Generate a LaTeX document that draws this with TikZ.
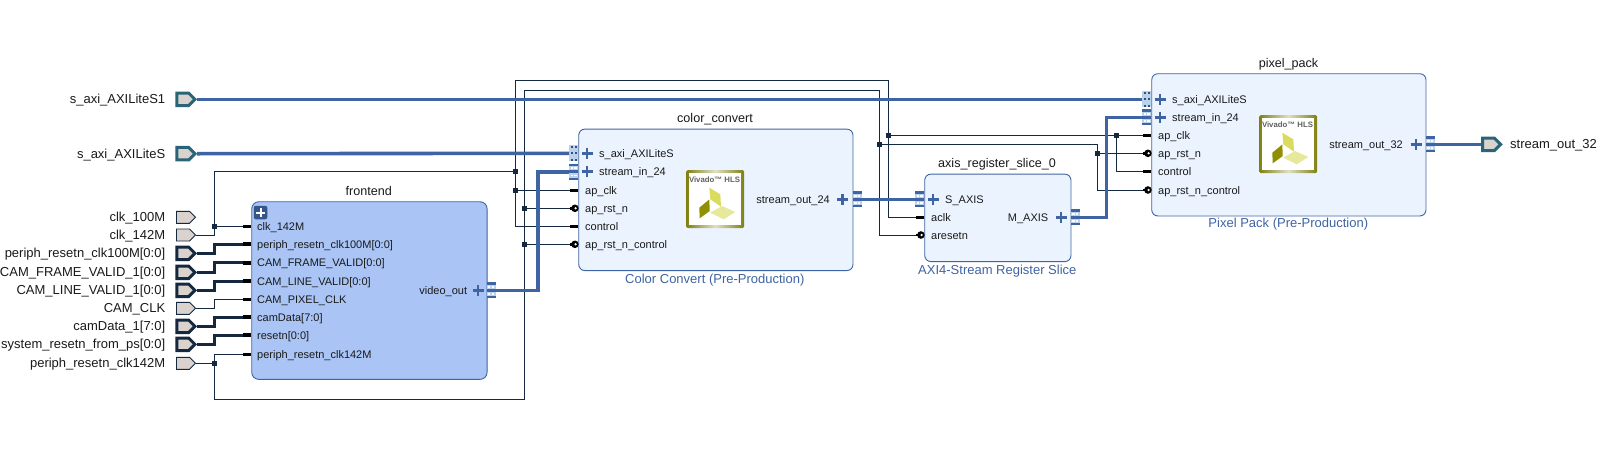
\documentclass[tikz,border=0pt]{standalone}
\usepackage{fontspec}
\setmainfont{Liberation Sans}
\usetikzlibrary{shapes.symbols,calc}
\definecolor{wireblue}{HTML}{3F64A3}
\definecolor{thinnavy}{HTML}{14283F}
\definecolor{portfill}{HTML}{DAD2CC}
\definecolor{portteal}{HTML}{2A6478}
\definecolor{paleblock}{HTML}{EBF4FE}
\definecolor{frontblock}{HTML}{A9C4F5}
\definecolor{iconpale}{HTML}{BBD3EA}
\definecolor{txt}{HTML}{1A1A1A}
\definecolor{olivefr}{HTML}{7F7F10}
\tikzset{
 ipblock/.style={draw=wireblue,line width=0.9pt,rounded corners=6pt,anchor=north west,inner sep=0pt,fill=paleblock},
 sigbase/.style={shape=signal,signal to=east,signal pointer angle=90,inner sep=0pt,fill=portfill,minimum width=19pt,anchor=center},
 portthin/.style={sigbase,draw=thinnavy,line width=0.9pt,minimum height=12pt},
 portbus/.style={sigbase,draw=thinnavy,line width=3pt,minimum height=12.5pt,minimum width=18pt},
 portif/.style={sigbase,draw=portteal,line width=3pt,minimum height=12.5pt,minimum width=18pt},
 pinlab/.style={font=\fontsize{11}{13}\selectfont,text=txt,inner sep=0pt,anchor=base west,yshift=-4pt},
 pinlabr/.style={font=\fontsize{11}{13}\selectfont,text=txt,inner sep=0pt,anchor=base east,yshift=-4pt},
 portlab/.style={font=\fontsize{13}{15}\selectfont,text=txt,inner sep=0pt,anchor=base east,yshift=-4.5pt},
 titlelab/.style={font=\fontsize{12.6}{15}\selectfont,text=txt,inner sep=0pt,anchor=base,yshift=-4.5pt},
 sublab/.style={font=\fontsize{13}{15}\selectfont,text=wireblue,inner sep=0pt,anchor=base,yshift=-4.5pt},
 jct/.style={shape=rectangle,fill=thinnavy,minimum size=4.6pt,inner sep=0pt},
 thinwire/.style={draw=thinnavy,line width=0.9pt},
 buswire/.style={draw=thinnavy,line width=3pt},
 ifwire/.style={draw=wireblue,line width=3.6pt},
 ifbox/.style={shape=rectangle,fill=iconpale,minimum width=9pt,minimum height=16pt,inner sep=0pt},
}
% stub pins: name, block edge x, y
\newcommand{\stub}[3]{\coordinate (#1) at (#2-8,#3);\draw[black,line width=3pt] (#1) -- (#2-.5,#3);}
\newcommand{\bstub}[3]{\coordinate (#1) at (#2-8,#3);\draw[black,line width=4pt] (#1) -- (#2-.5,#3);}
\newcommand{\rpin}[3]{\coordinate (#1) at (#2-8,#3);\draw[black,line width=2.6pt] (#1) -- (#2-4,#3);
  \fill[black] (#2-3.4,#3) circle (3.8pt);\fill[white] (#2-2.7,#3) circle (1.3pt);}
\newcommand{\plus}[2]{\draw[wireblue,line width=2.8pt] (#1-5.5,#2) -- (#1+5.5,#2) (#1,#2-5.5) -- (#1,#2+5.5);}
% interface icons: name, centre x, y
\newcommand{\ifdots}[3]{\node[ifbox] (#1) at (#2,#3) {};
  \foreach \dy in {-6.5,0,6.5}{\fill[wireblue!80!black] (#2-3,#3+\dy-1) rectangle (#2-.8,#3+\dy+1);\fill[wireblue!80!black] (#2+.8,#3+\dy-1) rectangle (#2+3,#3+\dy+1);}}
\newcommand{\ifbars}[3]{\node[ifbox] (#1) at (#2,#3) {};
  \fill[wireblue] (#2-4.5,#3-8) rectangle (#2+4.5,#3-5.8);
  \fill[wireblue] (#2-4.5,#3-1.5) rectangle (#2+4.5,#3+1.5);
  \fill[wireblue] (#2-4.5,#3+5.8) rectangle (#2+4.5,#3+8);
  \foreach \dy in {-3.7,3.7}{\fill[white] (#2-3.2,#3+\dy-.9) rectangle (#2-.6,#3+\dy+.9);\fill[white] (#2+.6,#3+\dy-.9) rectangle (#2+3.2,#3+\dy+.9);}}
% logo at top-left corner
\newcommand{\hlslogo}[3]{\begin{scope}[shift={(#2,#3)}]
  \node[shape=rectangle,anchor=north west,minimum size=58pt,inner sep=0pt,rounded corners=1.5pt,left color=olivefr,right color=olivefr,middle color=olivefr!25] (#1) at (0,0) {};
  \fill[white] (3,3) rectangle (55,55);
  \node[font=\bfseries\fontsize{7.8}{8}\selectfont,text=black!62,inner sep=0pt] (#1t) at (28.5,10.2) {Vivado™ HLS};
  \fill[HTML=D9DC5F] (23.3,17.7) -- (34.3,24.3) -- (35,36.7) -- (24.3,29.3) -- cycle;
  \fill[HTML=8F8F00] (13.3,37.7) -- (23.3,29.5) -- (23.7,41) -- (13.7,48.3) -- cycle;
  \fill[HTML=E6E99C] (24.3,42.7) -- (36,36) -- (49.3,42) -- (37.7,49.3) -- cycle;
\end{scope}}
\tikzset{HTML/.code={\definecolor{tmpc}{HTML}{#1}\pgfsetfillcolor{tmpc}}}
\begin{document}
\begin{tikzpicture}[x=1pt,y=-1pt]
\useasboundingbox (0,0) rectangle (1605,450);
\fill[white] (0,0) rectangle (1605,450);

% ----- blocks
\node[ipblock,fill=frontblock,minimum width=235.3pt,minimum height=177.6pt,rounded corners=7pt] (fe) at (251.3,201.3) {};
\node[ipblock,minimum width=274.2pt,minimum height=141.4pt] (cc) at (578.3,128.7) {};
\node[ipblock,minimum width=146.2pt,minimum height=87.4pt] (rs) at (924.3,173.7) {};
\node[ipblock,minimum width=274.2pt,minimum height=142.2pt] (pp) at (1151.3,73.3) {};

\node[titlelab] (tfe) at (368.8,190.7) {frontend};
\node[titlelab] (tcc) at (715,117.7) {color\_convert};
\node[sublab] (scc) at (714.8,278.7) {Color Convert (Pre-Production)};
\node[titlelab] (trs) at (997,162.7) {axis\_register\_slice\_0};
\node[sublab] (srs) at (997.3,270) {AXI4-Stream Register Slice};
\node[titlelab] (tpp) at (1288.5,63.3) {pixel\_pack};
\node[sublab] (spp) at (1288.3,223.3) {Pixel Pack (Pre-Production)};

% frontend expand badge
\node[shape=rectangle,fill=wireblue!85!black,rounded corners=2pt,minimum size=13.5pt,inner sep=0pt] (feb) at (260.5,212.5) {};
\draw[white,line width=2pt] (256,212.5) -- (265,212.5) (260.5,208) -- (260.5,217);

% ----- frontend pins
\stub{fclk}{251.3}{226.3}\node[pinlab] (lf1) at (257,226.3) {clk\_142M};
\bstub{frst}{251.3}{244.3}\node[pinlab] (lf2) at (257,244.3) {periph\_resetn\_clk100M[0:0]};
\bstub{ffv}{251.3}{262.7}\node[pinlab] (lf3) at (257,262.7) {CAM\_FRAME\_VALID[0:0]};
\bstub{flv}{251.3}{281.3}\node[pinlab] (lf4) at (257,281.3) {CAM\_LINE\_VALID[0:0]};
\stub{fpc}{251.3}{299.3}\node[pinlab] (lf5) at (257,299.3) {CAM\_PIXEL\_CLK};
\bstub{fcd}{251.3}{317.3}\node[pinlab] (lf6) at (257,317.3) {camData[7:0]};
\bstub{frn}{251.3}{335.3}\node[pinlab] (lf7) at (257,335.3) {resetn[0:0]};
\stub{fp42}{251.3}{354.3}\node[pinlab] (lf8) at (257,354.3) {periph\_resetn\_clk142M};
\plus{478}{290.3}\ifbars{fvid}{491}{290.3}\node[pinlabr] (lf9) at (467.3,290.3) {video\_out};

% ----- color_convert pins
\plus{587}{153.3}\ifdots{cax}{573.8}{153.3}\node[pinlab] (lc1) at (599,153.3) {s\_axi\_AXILiteS};
\plus{587}{171.7}\ifbars{cin}{573.8}{171.7}\node[pinlab] (lc2) at (599,171.7) {stream\_in\_24};
\stub{cclk}{578.3}{190.3}\node[pinlab] (lc3) at (585,190.3) {ap\_clk};
\rpin{crst}{578.3}{208.3}\node[pinlab] (lc4) at (585,208.3) {ap\_rst\_n};
\stub{cctl}{578.3}{226.3}\node[pinlab] (lc5) at (585,226.3) {control};
\rpin{crc}{578.3}{244.3}\node[pinlab] (lc6) at (585,244.3) {ap\_rst\_n\_control};
\plus{842.7}{199.3}\ifbars{cout}{857.2}{199.3}\node[pinlabr] (lc7) at (830,199.3) {stream\_out\_24};
\hlslogo{lgc}{686}{170}

% ----- register slice pins
\plus{933}{199.3}\ifbars{rin}{919.8}{199.3}\node[pinlab] (lr1) at (945,199.3) {S\_AXIS};
\stub{rclk}{924.3}{217.3}\node[pinlab] (lr2) at (931,217.3) {aclk};
\rpin{rrst}{924.3}{235}\node[pinlab] (lr3) at (931,235) {aresetn};
\plus{1061}{217.3}\ifbars{rout}{1075.2}{217.3}\node[pinlabr] (lr4) at (1048.5,217.3) {M\_AXIS};

% ----- pixel_pack pins
\plus{1160}{99.3}\ifdots{pax}{1146.8}{99.3}\node[pinlab] (lp1) at (1172,99.3) {s\_axi\_AXILiteS};
\plus{1160}{117.3}\ifbars{pin}{1146.8}{117.3}\node[pinlab] (lp2) at (1172,117.3) {stream\_in\_24};
\stub{pclk}{1151.3}{135.7}\node[pinlab] (lp3) at (1158,135.7) {ap\_clk};
\rpin{prst}{1151.3}{153.3}\node[pinlab] (lp4) at (1158,153.3) {ap\_rst\_n};
\stub{pctl}{1151.3}{171.3}\node[pinlab] (lp5) at (1158,171.3) {control};
\rpin{prc}{1151.3}{190}\node[pinlab] (lp6) at (1158,190) {ap\_rst\_n\_control};
\plus{1416}{144.3}\ifbars{pout}{1430.2}{144.3}\node[pinlabr] (lp7) at (1403,144.3) {stream\_out\_32};
\hlslogo{lgp}{1259}{115}

% ----- external ports
\node[portif] (pS1) at (182.8,99.3) {};\node[portlab] (tS1) at (165.4,99.3) {s\_axi\_AXILiteS1};
\node[portif] (pS0) at (182.8,153.7) {};\node[portlab] (tS0) at (165.4,153.7) {s\_axi\_AXILiteS};
\node[portthin] (p100) at (183,217.3) {};\node[portlab] (t100) at (165.4,217.3) {clk\_100M};
\node[portthin] (p142) at (183,235) {};\node[portlab] (t142) at (165.4,235) {clk\_142M};
\node[portbus] (prs) at (182.8,253.3) {};\node[portlab] (trs0) at (165.4,253.3) {periph\_resetn\_clk100M[0:0]};
\node[portbus] (pfv) at (182.8,272.3) {};\node[portlab] (tfv) at (165.4,272.3) {CAM\_FRAME\_VALID\_1[0:0]};
\node[portbus] (plv) at (182.8,290.3) {};\node[portlab] (tlv) at (165.4,290.3) {CAM\_LINE\_VALID\_1[0:0]};
\node[portthin] (pck) at (183,308.3) {};\node[portlab] (tck) at (165.4,308.3) {CAM\_CLK};
\node[portbus] (pcd) at (182.8,326.3) {};\node[portlab] (tcd) at (165.4,326.3) {camData\_1[7:0]};
\node[portbus] (psy) at (182.8,344.3) {};\node[portlab] (tsy) at (165.4,344.3) {system\_resetn\_from\_ps[0:0]};
\node[portthin] (pr42) at (183,363.3) {};\node[portlab] (tr42) at (165.4,363.3) {periph\_resetn\_clk142M};
\node[portif] (pO) at (1488.5,144.3) {};\node[portlab,anchor=base west] (tO) at (1510,144.3) {stream\_out\_32};

% ----- junctions
\node[jct] (jA) at (214.2,226.3) {};
\node[jct] (jB) at (515.3,171.3) {};
\node[jct] (jC) at (515.3,190.3) {};
\node[jct] (jD) at (888.3,135.7) {};
\node[jct] (jE) at (1116.7,135.7) {};
\node[jct] (jF) at (214.2,363.3) {};
\node[jct] (jG) at (524.3,208.3) {};
\node[jct] (jH) at (524.3,244.3) {};
\node[jct] (jI) at (879.3,144.3) {};
\node[jct] (jJ) at (1097.3,153.3) {};
\coordinate (topA) at (515.3,80.3);
\coordinate (topB) at (888.3,80.3);
\coordinate (topC) at (524.3,90.3);
\coordinate (topD) at (879.3,90.3);
\coordinate (botA) at (214.2,399.3);
\coordinate (botB) at (524.3,399.3);
\coordinate (rstR) at (1097.3,144.3);
\coordinate (ckB) at (214.2,299.3);
\coordinate (bB1) at (214.2,244.3);
\coordinate (bB2) at (214.2,262.7);
\coordinate (bB3) at (214.2,281.3);
\coordinate (bB4) at (214.2,317.3);
\coordinate (bB5) at (214.2,335.3);

% ----- clock net
\draw[thinwire] (p142.east) -| (jA.center);
\draw[thinwire] (jA.center) -- (fclk);
\draw[thinwire] (jA.center) |- (jB.center);
\draw[thinwire] (topA) -- (jB.center) -- (jC.center) |- (cctl);
\draw[thinwire] (jC.center) -- (cclk);
\draw[thinwire] (topA) -- (topB) -- (jD.center) |- (rclk);
\draw[thinwire] (jD.center) -- (jE.center) -- (pclk);
\draw[thinwire] (jE.center) |- (pctl);
% ----- reset net
\draw[thinwire] (pr42.east) -- (jF.center);
\draw[thinwire] (jF.center) |- (fp42);
\draw[thinwire] (jF.center) -- (botA) -- (botB) -- (jH.center) -- (jG.center) -- (topC) -- (topD) -- (jI.center) |- (rrst);
\draw[thinwire] (jG.center) -- (crst);
\draw[thinwire] (jH.center) -- (crc);
\draw[thinwire] (jI.center) -- (rstR) -- (jJ.center) |- (prc);
\draw[thinwire] (jJ.center) -- (prst);
\draw[thinwire] (pck.east) -| (ckB) -- (fpc);
% ----- buses
\draw[buswire] (prs.east) -| (bB1) -- (frst);
\draw[buswire] (pfv.east) -| (bB2) -- (ffv);
\draw[buswire] (plv.east) -| (bB3) -- (flv);
\draw[buswire] (pcd.east) -| (bB4) -- (fcd);
\draw[buswire] (psy.east) -| (bB5) -- (frn);
% ----- interfaces
\draw[ifwire] (pS1.east) -- (pax.west);
\draw[ifwire] (pS0.east) -- (cax.west);
\draw[ifwire] (fvid.east) -- ++(42,0) |- (cin.west);
\draw[ifwire] (cout.east) -- (rin.west);
\draw[ifwire] (rout.east) -- ++(26.5,0) |- (pin.west);
\draw[ifwire] (pout.east) -- (pO.west);
\end{tikzpicture}
\end{document}
